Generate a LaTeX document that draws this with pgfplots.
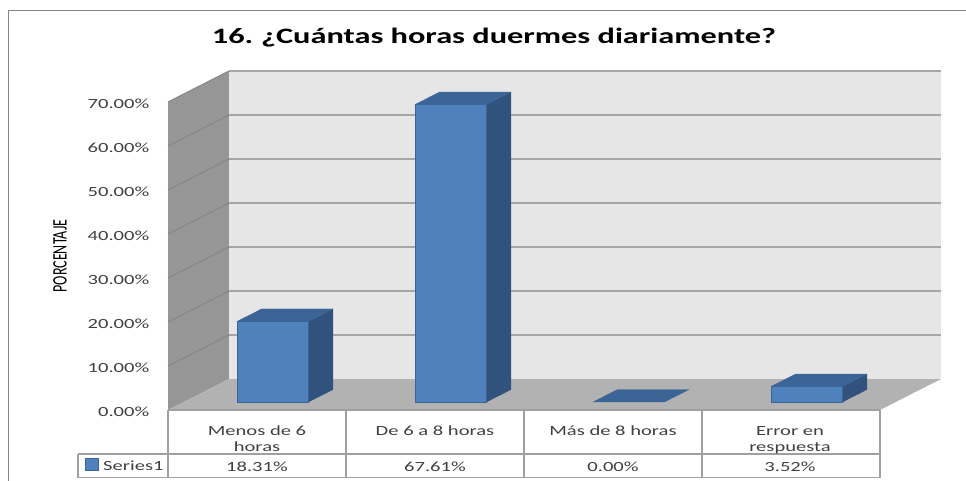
\documentclass[border=0pt]{standalone}
\usepackage{pgfplots}
\pgfplotsset{compat=1.18}
\usepackage{fontspec}
\setmainfont{Carlito}[FakeStretch=1.47]
\newfontfamily\condfont{Carlito}[FakeStretch=0.68]
\definecolor{barfront}{HTML}{4F81BD}
\definecolor{barside}{HTML}{30527C}
\definecolor{bartop}{HTML}{3C6597}
\definecolor{baredge}{HTML}{3A6596}
\definecolor{wallside}{HTML}{969696}
\definecolor{wallback}{HTML}{E6E6E6}
\definecolor{floorc}{HTML}{B2B2B2}
\definecolor{gridc}{HTML}{A6A6A6}
\definecolor{gridside}{HTML}{858585}
\definecolor{tablec}{HTML}{A0A0A0}
\definecolor{framec}{HTML}{868686}
\definecolor{txt}{HTML}{404040}
\begin{document}
\begin{tikzpicture}
\useasboundingbox (0pt,0pt) rectangle (966pt,480pt);
% outer frame
\draw[framec, line width=1.5pt] (8.5pt,-2pt) -- (8.5pt,469.5pt) -- (968pt,469.5pt);

% 3D part (walls, floor, bars)
\begin{axis}[
  anchor=origin, at={(168pt,70pt)},
  x={(178pt,0pt)}, y={(61pt,31pt)}, z={(0pt,4.4pt)},
  xmin=0, xmax=4, ymin=0, ymax=1, zmin=0, zmax=70,
  hide axis, clip=false,
]
% left wall
\addplot3[fill=wallside, draw=none] coordinates {(0,0,0) (0,1,0) (0,1,70) (0,0,70)} -- cycle;
% back wall
\addplot3[fill=wallback, draw=none] coordinates {(0,1,0) (4,1,0) (4,1,70) (0,1,70)} -- cycle;
% floor
\addplot3[fill=floorc, draw=none] coordinates {(0,0,0) (4,0,0) (4,1,0) (0,1,0)} -- cycle;
% grid lines
\pgfplotsinvokeforeach{10,20,...,70}{
  \addplot3[gridc, line width=1.5pt] coordinates {(0,1,#1) (4,1,#1)};
  \addplot3[gridside, line width=1pt] coordinates {(0,0,#1) (0,1,#1)};
}
% bar 1: Menos de 6 horas, 18.31
\addplot3[fill=barside, draw=barside] coordinates {(0.7,0.26,0) (0.7,0.66,0) (0.7,0.66,18.31) (0.7,0.26,18.31)} -- cycle;
\addplot3[fill=bartop, draw=bartop] coordinates {(0.3,0.26,18.31) (0.7,0.26,18.31) (0.7,0.66,18.31) (0.3,0.66,18.31)} -- cycle;
\addplot3[fill=barfront, draw=baredge, line width=0.8pt] coordinates {(0.3,0.26,0) (0.7,0.26,0) (0.7,0.26,18.31) (0.3,0.26,18.31)} -- cycle;
% bar 2: De 6 a 8 horas, 67.61
\addplot3[fill=barside, draw=barside] coordinates {(1.7,0.26,0) (1.7,0.66,0) (1.7,0.66,67.61) (1.7,0.26,67.61)} -- cycle;
\addplot3[fill=bartop, draw=bartop] coordinates {(1.3,0.26,67.61) (1.7,0.26,67.61) (1.7,0.66,67.61) (1.3,0.66,67.61)} -- cycle;
\addplot3[fill=barfront, draw=baredge, line width=0.8pt] coordinates {(1.3,0.26,0) (1.7,0.26,0) (1.7,0.26,67.61) (1.3,0.26,67.61)} -- cycle;
% bar 3: Mas de 8 horas, 0.00
\addplot3[fill=bartop, draw=bartop] coordinates {(2.3,0.26,0) (2.7,0.26,0) (2.7,0.66,0) (2.3,0.66,0)} -- cycle;
% bar 4: Error en respuesta, 3.52
\addplot3[fill=barside, draw=barside] coordinates {(3.7,0.26,0) (3.7,0.66,0) (3.7,0.66,3.52) (3.7,0.26,3.52)} -- cycle;
\addplot3[fill=bartop, draw=bartop] coordinates {(3.3,0.26,3.52) (3.7,0.26,3.52) (3.7,0.66,3.52) (3.3,0.66,3.52)} -- cycle;
\addplot3[fill=barfront, draw=baredge, line width=0.8pt] coordinates {(3.3,0.26,0) (3.7,0.26,0) (3.7,0.26,3.52) (3.3,0.26,3.52)} -- cycle;
\end{axis}

% 2D overlay for the value axis labels
\begin{axis}[
  at={(168pt,70pt)}, anchor=south west,
  scale only axis, width=712pt, height=308pt,
  xmin=0, xmax=4, ymin=0, ymax=70,
  axis line style={draw=none}, major tick length=0pt,
  xtick=\empty, ytick={0,10,...,70},
  yticklabels={0.00\%,10.00\%,20.00\%,30.00\%,40.00\%,50.00\%,60.00\%,70.00\%},
  yticklabel style={font=\fontsize{14}{17}\selectfont, text=txt, inner sep=0pt, anchor=east, xshift=-18.5pt, yshift=-1.8pt},
]
\end{axis}

% title
\node[anchor=base, font=\bfseries\fontsize{22}{26}\selectfont] at (494pt,436.5pt) {16.\hspace{-2pt} ¿Cuántas horas duermes diariamente?};
% y label
\node[rotate=90, font=\condfont\fontsize{20.6}{24}\selectfont, text=black] at (60pt,224pt) {PORCENTAJE};

% data table
\begin{scope}[tablec, line width=1.2pt]
\draw (168pt,70pt) -- (880pt,70pt);
\draw (78pt,26pt) -- (880pt,26pt);
\draw (78pt,2.5pt) -- (880pt,2.5pt);
\foreach \xx in {168,346,524,702,880} {\draw (\xx pt,70pt) -- (\xx pt,2.5pt);}
\draw (78pt,26pt) -- (78pt,2.5pt);
\end{scope}
\begin{scope}[every node/.style={anchor=base, text=txt, font=\fontsize{14}{17}\selectfont}]
\node at (257pt,45pt) {Menos de 6};
\node at (257pt,28.5pt) {horas};
\node at (435pt,45pt) {De 6 a 8 horas};
\node at (613pt,45pt) {Más de 8 horas};
\node at (790pt,45pt) {Error en};
\node at (790pt,28.5pt) {respuesta};
\node at (257pt,9pt) {18.31\%};
\node at (435pt,9pt) {67.61\%};
\node at (613pt,9pt) {0.00\%};
\node at (790pt,9pt) {3.52\%};
\node[anchor=base west, inner sep=0pt] at (103pt,10pt) {Series1};
\end{scope}
\filldraw[fill=barfront, draw=baredge, line width=0.8pt] (85pt,10pt) rectangle (98pt,22pt);
\end{tikzpicture}
\end{document}
